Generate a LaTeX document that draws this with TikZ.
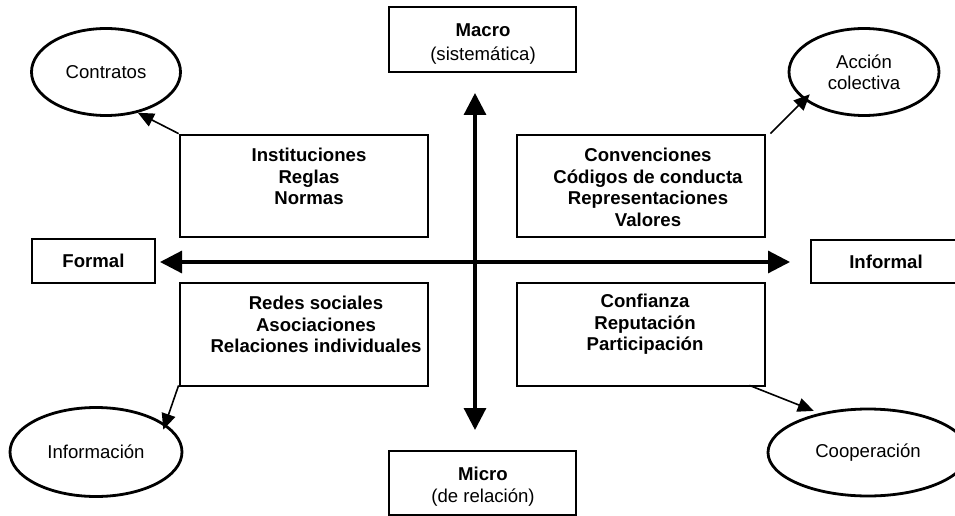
\documentclass[tikz,border=0pt]{standalone}
\usepackage{fontspec}
\setmainfont{Liberation Sans}
\usetikzlibrary{arrows.meta,shapes.geometric}
\newcommand{\dgfont}{\fontsize{18.6}{21.5}\selectfont}
\begin{document}
\begin{tikzpicture}[x=1pt,y=-1pt,
  box/.style={draw, line width=2.8pt, inner sep=0pt, align=center, font=\dgfont},
  txt/.style={inner sep=0pt, align=center, font=\dgfont\bfseries},
  oval/.style={draw, ellipse, line width=2.8pt, inner sep=0pt, align=center, font=\dgfont},
  axis/.style={line width=3.2pt, {Triangle[length=22pt,width=22pt]}-{Triangle[length=22pt,width=22pt]}},
  link/.style={line width=1.6pt, -{Triangle[length=16pt,width=14pt]}}
]
\useasboundingbox (0,0) rectangle (955,516);

% axis end boxes
\node[box, minimum width=187pt, minimum height=65pt] (macro) at (482.5,39.5) {};
\node[txt, font=\dgfont] (macrot) at (483,44) {\textbf{Macro}\\[2.5pt](sistemática)};
\node[box, minimum width=187pt, minimum height=64pt] (micro) at (482.5,483) {};
\node[txt, font=\dgfont] (microt) at (483,487) {\textbf{Micro}\\[0.5pt](de relación)};
\node[box, minimum width=123pt, minimum height=44pt, font=\dgfont\bfseries] (formal) at (93.5,261) {Formal};
\node[box, minimum width=150pt, minimum height=43pt, font=\dgfont\bfseries] (informal) at (886,261.5) {Informal};

% quadrant boxes
\node[box, minimum width=248pt, minimum height=102pt] (tl) at (304,186) {};
\node[box, minimum width=248pt, minimum height=102pt] (tr) at (641,186) {};
\node[box, minimum width=248pt, minimum height=103pt] (bl) at (304,334.5) {};
\node[box, minimum width=248pt, minimum height=103pt] (br) at (641,334.5) {};

\node[txt] (tlt) at (309,176.5) {Instituciones\\Reglas\\Normas};
\node[txt] (trt) at (648,187.5) {Convenciones\\Códigos de conducta\\Representaciones\\Valores};
\node[txt] (blt) at (316,324.5) {Redes sociales\\Asociaciones\\Relaciones individuales};
\node[txt] (brt) at (645,324.5) {Confianza\\Reputación\\Participación};

% ellipses
\node[oval, minimum width=149pt, minimum height=87pt] (contratos) at (106,72) {Contratos};
\node[oval, minimum width=150pt, minimum height=87pt] (accion) at (864,72) {Acción\\colectiva};
\node[oval, minimum width=172pt, minimum height=89pt] (info) at (96,452) {Información};
\node[oval, minimum width=200pt, minimum height=87pt] (coop) at (868,452.5) {Cooperación};

% axes
\coordinate (up) at (475,93);
\coordinate (down) at (475,430);
\coordinate (left) at (160,262);
\coordinate (right) at (790,262);
\draw[axis] (down) -- (up);
\draw[axis] (left) -- (right);

% links
\draw[link] (tl.north west) -- (contratos.-52);
\draw[link, shorten >=-8pt] ([xshift=4pt]tr.north east) -- (accion.205);
\draw[link, shorten >=-6pt] ([yshift=2pt]bl.south west) -- (info.22);
\draw[link, shorten >=6pt] ([xshift=-17pt,yshift=2pt]br.south east) -- (coop.141);
\end{tikzpicture}
\end{document}
